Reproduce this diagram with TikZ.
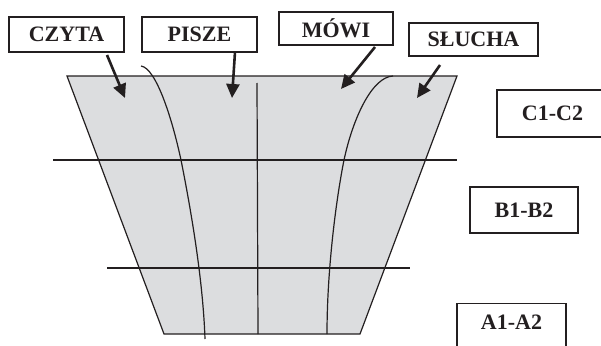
\documentclass[tikz,border=0pt]{standalone}
\usepackage{fontspec}
\setmainfont{Liberation Serif}
\usetikzlibrary{arrows.meta}
\definecolor{trapfill}{HTML}{DCDDDF}
\definecolor{inkline}{HTML}{231F20}
\begin{document}
\begin{tikzpicture}[x=1pt,y=-1pt,
  lbl/.style={draw=inkline,line width=1.2pt,fill=white,inner sep=0pt,
    font=\fontsize{22}{26}\selectfont\bfseries,text=inkline},
  thin/.style={draw=inkline,line width=1.2pt},
  pointer/.style={draw=inkline,line width=2.6pt,
    -{Triangle[length=14pt,width=13pt]}}]
\useasboundingbox (0,0) rectangle (601,345);
% trapezoid
\fill[trapfill] (67,76) -- (457,76) -- (360,334) -- (164,334) -- cycle;
\draw[thin] (67,76) -- (457,76) -- (360,334) -- (164,334) -- cycle;
% horizontal lines
\coordinate (h1a) at (53,160); \coordinate (h1b) at (457,160);
\coordinate (h2a) at (107,268); \coordinate (h2b) at (410,268);
\draw[thin] (h1a) -- (h1b);
\draw[thin] (h2a) -- (h2b);
% vertical line
\coordinate (va) at (257,83); \coordinate (vb) at (258,334);
\draw[thin] (va) -- (vb);
% left curve
\coordinate (l0) at (141,66); \coordinate (l1) at (181,160); \coordinate (l2) at (205,339);
\draw[thin] (l0) .. controls (156,68) and (172,118) .. (l1)
  .. controls (191,210) and (203,280) .. (l2);
% right curve
\coordinate (r0) at (393,76); \coordinate (r1) at (344,160); \coordinate (r2) at (327,334);
\draw[thin] (r0) .. controls (372,77) and (353,118) .. (r1)
  .. controls (336,200) and (327,270) .. (r2);
% label boxes
\node[lbl,minimum width=115pt,minimum height=35pt] (czyta) at (66.5,34.5) {CZYTA};
\node[lbl,minimum width=115pt,minimum height=35pt] (pisze) at (199.5,34.5) {PISZE};
\node[lbl,minimum width=114pt,minimum height=33pt] (mowi) at (336,28.5) {MÓWI};
\node[lbl,minimum width=129pt,minimum height=33pt] (slucha) at (473.5,39.5) {SŁUCHA};
\node[lbl,minimum width=111pt,minimum height=47pt] (c12) at (552.5,113.5) {C1-C2};
\node[lbl,minimum width=108pt,minimum height=46pt] (b12) at (524,210) {B1-B2};
\node[lbl,minimum width=109pt,minimum height=44pt,anchor=north] (a12) at (511.5,303) {};
\node[font=\fontsize{22}{26}\selectfont\bfseries,text=inkline] (a12t) at (511.5,322) {A1-A2};
% arrows
\coordinate (c1) at (107,55); \coordinate (c2) at (125,98);
\coordinate (p1) at (235,52); \coordinate (p2) at (232,98);
\coordinate (m1) at (375,47); \coordinate (m2) at (341,89);
\coordinate (s1) at (440,65); \coordinate (s2) at (417,98);
\draw[pointer] (c1) -- (c2);
\draw[pointer] (p1) -- (p2);
\draw[pointer] (m1) -- (m2);
\draw[pointer] (s1) -- (s2);
\end{tikzpicture}
\end{document}
